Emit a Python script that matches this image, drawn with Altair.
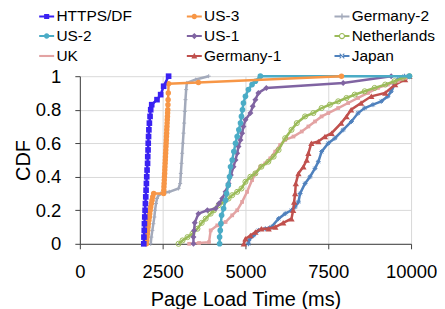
import altair as alt
import pandas as pd

# ---------------- data ----------------
series_order = ["HTTPS/DF", "US-3", "Germany-2", "US-2", "US-1",
                "Netherlands", "UK", "Germany-1", "Japan"]
colors = ["#3A22F2", "#F79646", "#A3AABB", "#4BACC6", "#8064A2",
          "#9BBB59", "#E3A3A3", "#C0504D", "#4F81BD"]

https_x = [1930, 1935, 1945, 1950, 1960, 1970, 1980, 1990, 2000, 2010, 2020, 2030, 2045,
           2050, 2060, 2065, 2075, 2085, 2100, 2120, 2140, 2170, 2330, 2440, 2530, 2680]
https_y = [0, 0.04, 0.08, 0.12, 0.16, 0.2, 0.24, 0.28, 0.32, 0.36, 0.4, 0.44, 0.48,
           0.52, 0.56, 0.6, 0.64, 0.68, 0.72, 0.76, 0.8, 0.83, 0.86, 0.89, 0.94, 1.0]

us3_x = [2010, 2020, 2030, 2040, 2050, 2060, 2070, 2085, 2100, 2110, 2125, 2140, 2160, 2180,
         2200, 2230, 2530, 2535, 2540, 2545, 2550, 2555, 2560, 2565, 2570, 2575, 2580, 2585,
         2590, 2595, 2600, 2605, 2610, 2615, 2620, 2625, 2630, 2635, 2640, 2645, 2650, 2655,
         2660, 2665, 2670, 2680, 3580, 7900]
us3_y = [0, 0.02, 0.04, 0.06, 0.08, 0.1, 0.12, 0.14, 0.16, 0.18, 0.2, 0.22, 0.24, 0.26,
         0.28, 0.30, 0.30, 0.32, 0.34, 0.36, 0.38, 0.40, 0.42, 0.44, 0.46, 0.48, 0.50, 0.52,
         0.54, 0.56, 0.58, 0.60, 0.62, 0.64, 0.66, 0.68, 0.70, 0.72, 0.74, 0.76, 0.78, 0.80,
         0.83, 0.86, 0.90, 0.955, 0.962, 1.0]

ger2_x = [2140, 2160, 2190, 2220, 2250, 2270, 2300, 2330, 2380, 2440, 2700, 2980, 3030,
          3050, 3070, 3090, 3110, 3130, 3150, 3170, 3190, 3210, 3230, 3500, 3890]
ger2_y = [0, 0.04, 0.08, 0.12, 0.16, 0.2, 0.24, 0.27, 0.29, 0.30, 0.31, 0.33, 0.36,
          0.42, 0.48, 0.54, 0.6, 0.66, 0.72, 0.79, 0.86, 0.92, 0.96, 0.98, 1.0]

us2_x = [4220, 4220, 4240, 4260, 4280, 4340, 4400, 4430, 4480, 4520, 4550, 4600, 4650,
         4700, 4750, 4800, 4850, 4880, 4910, 4940, 5000, 5090, 5200, 5300, 5450, 9950]
us2_y = [0, 0.04, 0.08, 0.12, 0.17, 0.21, 0.26, 0.30, 0.35, 0.40, 0.46, 0.5, 0.55,
         0.6, 0.64, 0.68, 0.72, 0.76, 0.8, 0.84, 0.88, 0.92, 0.95, 0.97, 1.0, 1.0]

us1_x = [3430, 3430, 3450, 3470, 3580, 3850, 4100, 4200, 4300, 4400, 4490, 4560, 4640,
         4700, 4750, 4790, 4850, 4900, 4940, 5000, 5150, 5220, 5300, 5390, 5630, 7950, 9400]
us1_y = [0, 0.04, 0.08, 0.125, 0.18, 0.2, 0.21, 0.24, 0.27, 0.31, 0.36, 0.41, 0.46,
         0.5, 0.54, 0.58, 0.62, 0.66, 0.70, 0.74, 0.78, 0.82, 0.86, 0.9, 0.93, 0.96, 1.0]

neth_x = [2980, 3100, 3250, 3400, 3550, 3680, 3800, 3950, 4050, 4190, 4350, 4490, 4600,
          4750, 4880, 5000, 5150, 5300, 5480, 5690, 5850, 6000, 6200, 6390, 6550, 6800,
          7050, 7300, 7550, 7800, 8050, 8300, 8600, 8900, 9220, 9500, 9750, 9950]
neth_y = [0, 0.02, 0.04, 0.06, 0.09, 0.125, 0.15, 0.18, 0.2, 0.23, 0.25, 0.27, 0.29,
          0.31, 0.33, 0.37, 0.40, 0.42, 0.46, 0.49, 0.52, 0.56, 0.63, 0.68, 0.72, 0.76,
          0.78, 0.81, 0.83, 0.85, 0.87, 0.89, 0.91, 0.93, 0.95, 0.97, 0.99, 1.0]

uk_x = [3300, 3600, 3900, 3950, 4150, 4400, 4600, 4750, 4900, 5050, 5200, 5300, 5450,
        5600, 5750, 5900, 6050, 6200, 6450, 6700, 6900, 7100, 7300, 7500, 7800, 8100,
        8400, 8700, 9000, 9300, 9600, 9850, 9950]
uk_y = [0, 0.005, 0.01, 0.08, 0.11, 0.13, 0.17, 0.2, 0.25, 0.31, 0.38, 0.42, 0.46,
        0.48, 0.51, 0.55, 0.59, 0.62, 0.64, 0.67, 0.70, 0.73, 0.76, 0.78, 0.81, 0.84,
        0.87, 0.90, 0.93, 0.95, 0.97, 0.99, 1.0]

ger1_x = [4950, 5000, 5150, 5300, 5480, 5700, 5900, 6140, 6390, 6440, 6470, 6500, 6520,
          6600, 6750, 6850, 6900, 6990, 7200, 7400, 7600, 7890, 8050, 8190, 8490, 8800,
          9220, 9520, 9820, 9950]
ger1_y = [0, 0.03, 0.05, 0.07, 0.09, 0.09, 0.1, 0.125, 0.15, 0.2, 0.25, 0.3, 0.36,
          0.42, 0.46, 0.5, 0.54, 0.6, 0.61, 0.64, 0.66, 0.72, 0.76, 0.8, 0.84, 0.88,
          0.9, 0.95, 0.98, 1.0]

japan_x = [5090, 5100, 5250, 5390, 5600, 5780, 6000, 6200, 6390, 6500, 6600, 6650, 6800,
           6950, 7100, 7200, 7300, 7500, 7700, 7950, 8200, 8400, 8600, 8850, 9100, 9300,
           9400, 9500, 9600, 9800]
japan_y = [0, 0.02, 0.05, 0.08, 0.09, 0.1, 0.15, 0.18, 0.2, 0.22, 0.25, 0.3, 0.36,
           0.4, 0.45, 0.49, 0.55, 0.6, 0.63, 0.68, 0.73, 0.78, 0.81, 0.83, 0.85, 0.88,
           0.91, 0.95, 0.98, 1.0]

x_ticks = [0, 2500, 5000, 7500, 10000]
y_ticks = [0, 0.2, 0.4, 0.6, 0.8, 1.0]

series_data = {
    "HTTPS/DF": (https_x, https_y), "US-3": (us3_x, us3_y), "Germany-2": (ger2_x, ger2_y),
    "US-2": (us2_x, us2_y), "US-1": (us1_x, us1_y), "Netherlands": (neth_x, neth_y),
    "UK": (uk_x, uk_y), "Germany-1": (ger1_x, ger1_y), "Japan": (japan_x, japan_y),
}

# drawing order: first drawn at the bottom
draw_order = ["Japan", "Germany-1", "UK", "Netherlands", "US-1", "US-2",
              "Germany-2", "US-3", "HTTPS/DF"]

rows = []
for s in series_order:
    xs, ys = series_data[s]
    for i, (x, y) in enumerate(zip(xs, ys)):
        rows.append({"series": s, "ms": x, "cdf": y, "i": i})
df = pd.DataFrame(rows)

FONT = "Liberation Sans"
color_of = dict(zip(series_order, colors))

x_enc = alt.X("ms:Q", scale=alt.Scale(domain=[0, 10000], nice=False),
              axis=alt.Axis(values=x_ticks, format="d", title="Page Load Time (ms)"))
y_enc = alt.Y("cdf:Q", scale=alt.Scale(domain=[0, 1], nice=False),
              axis=alt.Axis(values=y_ticks, format="~g", title="CDF"))
color_scale = alt.Scale(domain=series_order, range=colors)

base = alt.Chart(df)

marker_style = {
    "HTTPS/DF": dict(shape="square", filled=True, size=32),
    "US-3": dict(shape="circle", filled=True, size=30),
    "Germany-2": dict(shape="M-1,0H1M0,-1V1", filled=False, size=16, strokeWidth=1),
    "US-2": dict(shape="circle", filled=True, size=32),
    "US-1": dict(shape="diamond", filled=True, size=36),
    "Netherlands": dict(shape="circle", filled=False, size=26, strokeWidth=1),
    "UK": dict(shape="square", filled=True, size=14),
    "Germany-1": dict(shape="triangle-up", filled=True, size=40),
    "Japan": dict(shape="M-1,0H1M0,-1V1M-0.7,-0.7L0.7,0.7M-0.7,0.7L0.7,-0.7",
                  filled=False, size=24, strokeWidth=1),
}

layers = []
for s in draw_order:
    sub = base.transform_filter(alt.datum.series == s)
    layers.append(sub.mark_line(strokeWidth=2.5, color=color_of[s]).encode(
        x=x_enc, y=y_enc, order="i:Q"))
    layers.append(sub.mark_point(opacity=1, color=color_of[s], **marker_style[s]).encode(
        x=x_enc, y=y_enc))

LINE = "M-1,-0.14H1V0.14H-1Z"
legend_paths = [
    LINE + "M-0.34,-0.34H0.34V0.34H-0.34Z",
    LINE + "M-0.36,0A0.36,0.36 0 1,1 0.36,0A0.36,0.36 0 1,1 -0.36,0Z",
    LINE + "M-0.09,-0.4H0.09V0.4H-0.09Z",
    LINE + "M-0.36,0A0.36,0.36 0 1,1 0.36,0A0.36,0.36 0 1,1 -0.36,0Z",
    LINE + "M0,-0.42L0.42,0L0,0.42L-0.42,0Z",
    "M-1,-0.14H-0.4V0.14H-1Z M0.4,-0.14H1V0.14H0.4Z"
    "M-0.42,0A0.42,0.42 0 1,1 0.42,0A0.42,0.42 0 1,1 -0.42,0Z"
    "M-0.26,0A0.26,0.26 0 1,0 0.26,0A0.26,0.26 0 1,0 -0.26,0Z",
    LINE,
    LINE + "M0,-0.42L0.4,0.32L-0.4,0.32Z",
    LINE + "M-0.36,-0.26L-0.26,-0.36L0.36,0.26L0.26,0.36Z"
           "M0.36,-0.26L0.26,-0.36L-0.36,0.26L-0.26,0.36Z",
]

legend = alt.Legend(
    title=None, orient="none", legendX=-41, legendY=-68, columns=3,
    direction="horizontal", columnPadding=46, rowPadding=3, labelOffset=2,
    symbolSize=225, symbolOpacity=1, symbolStrokeWidth=0,
    labelFontSize=15.5, labelFont=FONT, labelColor="#000000", gridAlign="all",
)

legend_layer = base.transform_filter(alt.datum.i == 0).mark_point(
    filled=True, opacity=0).encode(
    x=x_enc, y=y_enc,
    color=alt.Color("series:N", scale=color_scale, legend=legend),
    shape=alt.Shape("series:N", scale=alt.Scale(domain=series_order, range=legend_paths),
                    legend=legend),
)

chart = alt.layer(*layers, legend_layer).properties(
    width=332, height=168,
    padding={"left": 5, "top": 0, "right": 0, "bottom": 0},
).configure_view(stroke=None).configure_axis(
    labelFont=FONT, titleFont=FONT, labelFontSize=18.5, titleFontSize=20,
    titleFontWeight="normal", labelColor="#000000", titleColor="#000000",
    domainColor="#404040", tickColor="#404040", tickSize=5, domainWidth=1,
    gridColor="#D9D9D9", gridWidth=1, labelPadding=14,
).configure_axisX(titlePadding=8, labelFlush=False).configure_axisY(titlePadding=2)

chart.save("out.html", embed_options={"renderer": "svg", "actions": False})
